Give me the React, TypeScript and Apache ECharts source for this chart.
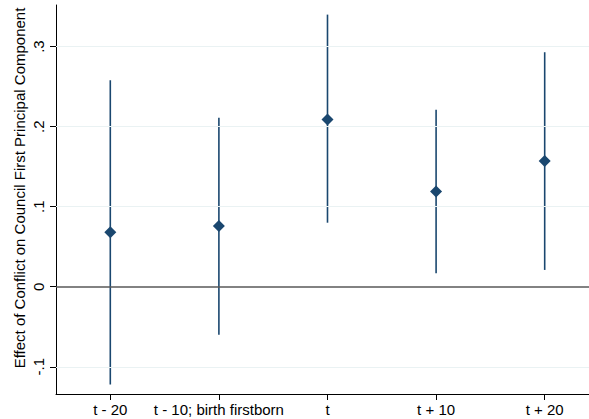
import React, { useEffect, useRef } from "react";
import * as echarts from "echarts";

const categories = ["t - 20", "t - 10; birth firstborn", "t", "t + 10", "t + 20"];
const estimates = [0.068, 0.076, 0.209, 0.119, 0.157];
const ciLower = [-0.122, -0.06, 0.08, 0.017, 0.021];
const ciUpper = [0.258, 0.211, 0.34, 0.221, 0.293];
const gridValues = [-0.1, 0.1, 0.2, 0.3];
const yTickValues = [-0.1, 0, 0.1, 0.2, 0.3];
const yTitle = "Effect of Conflict on Council First Principal Component";

const NAVY = "#1a476f";
const FONT = "Liberation Sans";

const fmt = (v: number) => {
  if (Math.abs(v) < 1e-9) return "0";
  const s = (Math.round(v * 10) / 10).toString();
  return s.replace(/^(-?)0\./, "$1.");
};

export default function App() {
  const ref = useRef<HTMLDivElement>(null);
  useEffect(() => {
    if (!ref.current) return;
    const chart = echarts.init(ref.current, null, { renderer: "svg" });
    const xPositions = categories.map((_, i) => i);
    const ciData = categories.map((_, i) => [i, ciLower[i], ciUpper[i]]);
    chart.setOption({
      animation: false,
      backgroundColor: "#ffffff",
      grid: { left: 56, right: 0, top: 5, bottom: 25, containLabel: false },
      xAxis: {
        type: "value",
        min: -0.5,
        max: 4.408,
        axisLine: { show: true, onZero: false, lineStyle: { color: "#000", width: 1 } },
        axisTick: { show: true, length: 6, customValues: xPositions, lineStyle: { color: "#000" } },
        axisLabel: {
          customValues: xPositions,
          formatter: (v: number) => categories[Math.round(v)] ?? "",
          color: "#000",
          fontFamily: FONT,
          fontSize: 15,
          margin: 8,
          showMinLabel: true,
          showMaxLabel: true,
        },
        splitLine: { show: false },
      },
      yAxis: {
        type: "value",
        min: -0.134,
        max: 0.352,
        axisLine: { show: true, onZero: false, lineStyle: { color: "#000", width: 1 } },
        axisTick: { show: true, length: 6, customValues: yTickValues, lineStyle: { color: "#000" } },
        axisLabel: {
          customValues: yTickValues,
          formatter: (v: number) => fmt(v),
          rotate: 90,
          color: "#000",
          fontFamily: FONT,
          fontSize: 15,
          margin: 10,
        },
        splitLine: { show: false },
      },
      graphic: [
        {
          type: "text",
          x: 19,
          y: 188,
          rotation: Math.PI / 2,
          style: {
            text: yTitle,
            fill: "#000",
            font: `15px "${FONT}"`,
            textAlign: "center",
            textVerticalAlign: "middle",
          },
        },
      ],
      series: [
        {
          type: "line",
          data: [],
          silent: true,
          markLine: {
            silent: true,
            symbol: "none",
            label: { show: false },
            lineStyle: { color: "#eaf2f3", width: 1, type: "solid" },
            data: gridValues.map((v) => ({ yAxis: v })),
          },
        },
        {
          type: "line",
          data: [],
          silent: true,
          markLine: {
            silent: true,
            symbol: "none",
            label: { show: false },
            lineStyle: { color: "#595959", width: 1.5, type: "solid" },
            data: [{ yAxis: 0 }],
          },
        },
        {
          type: "custom",
          data: ciData,
          renderItem: (params: any, api: any) => {
            const x = api.value(0);
            const lo = api.coord([x, api.value(1)]);
            const hi = api.coord([x, api.value(2)]);
            return {
              type: "line",
              shape: { x1: lo[0], y1: lo[1], x2: hi[0], y2: hi[1] },
              style: { stroke: NAVY, lineWidth: 1.6 },
            };
          },
          encode: { x: 0, y: [1, 2] },
          z: 3,
        },
        {
          type: "scatter",
          data: estimates.map((v, i) => [i, v]),
          symbol: "diamond",
          symbolSize: [12, 12],
          itemStyle: { color: NAVY, opacity: 1 },
          z: 4,
        },
      ],
    });
    return () => chart.dispose();
  }, []);
  return (
    <div
      ref={ref}
      style={{ position: "fixed", left: 0, top: 0, width: 589, height: 419, background: "#fff" }}
    />
  );
}
